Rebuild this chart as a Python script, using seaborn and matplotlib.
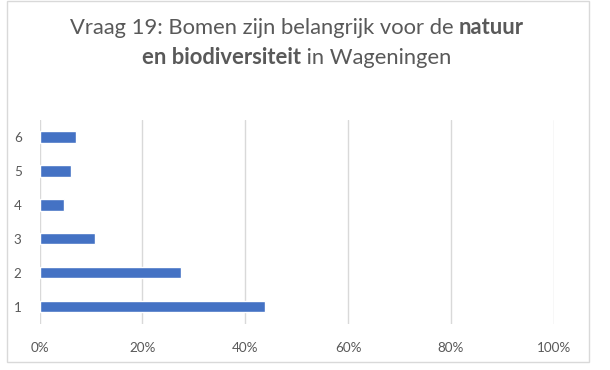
import matplotlib
matplotlib.use("Agg")
import matplotlib.pyplot as plt
import seaborn as sns
import pandas as pd
from matplotlib.patches import Rectangle

# data
categories = ["1", "2", "3", "4", "5", "6"]
percentages = [43.8, 27.5, 10.8, 4.7, 6.1, 7.1]
xticks = [0, 20, 40, 60, 80, 100]
xtick_labels = ["0%", "20%", "40%", "60%", "80%", "100%"]

df = pd.DataFrame({"antwoord": categories, "pct": percentages})

sns.set_theme(style="white")
plt.rcParams["font.family"] = ["Lato", "DejaVu Sans"]

W, H = 610, 370
fig = plt.figure(figsize=(W / 100, H / 100), dpi=100)
ax = fig.add_axes([39.7 / W, 1 - 323.5 / H, (553.7 - 39.7) / W, (323.5 - 119.8) / H])

sns.barplot(data=df, x="pct", y="antwoord", order=categories[::-1],
            color="#4472C4", width=0.345, saturation=1, ax=ax)

ax.set_xlim(0, 100)
ax.set_xticks(xticks)
ax.set_xticklabels(xtick_labels)
ax.set_xlabel("")
ax.set_ylabel("")
ax.grid(axis="x", color="#d9d9d9", linewidth=1)
ax.set_axisbelow(True)
for s in ax.spines.values():
    s.set_visible(False)
ax.tick_params(axis="both", length=0, labelsize=9.7, labelcolor="#595959")
ax.tick_params(axis="x", pad=13)
ax.tick_params(axis="y", pad=13)

# outer chart border
fig.patches.append(Rectangle((7 / W, 1 - 362 / H), 582 / W, 361 / H,
                             transform=fig.transFigure, fill=False,
                             edgecolor="#d9d9d9", linewidth=1))

# title with mixed bold parts, centred by hand
title_lines = [
    [("Vraag 19: Bomen zijn belangrijk voor de ", "normal"), ("natuur", "bold")],
    [("en biodiversiteit", "bold"), (" in Wageningen", "normal")],
]
title_y = [28, 58]
fs = 15.8
renderer = fig.canvas.get_renderer()
cx = 297
for parts, ypix in zip(title_lines, title_y):
    texts = []
    for s, w in parts:
        t = fig.text(0, 1 - ypix / H, s, fontsize=fs, fontweight=w, color="#595959",
                     va="center", ha="left")
        texts.append(t)
    widths = [t.get_window_extent(renderer).width for t in texts]
    x = cx - sum(widths) / 2
    for t, w in zip(texts, widths):
        t.set_x(x / W)
        x += w

fig.savefig("out.png", dpi=100)
